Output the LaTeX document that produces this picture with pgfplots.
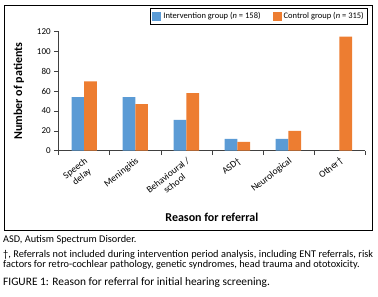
\documentclass[border=0pt]{standalone}
\usepackage{pgfplots}
\pgfplotsset{compat=1.18}
\usepackage{fontspec}
\setmainfont{Carlito}
\definecolor{cblue}{HTML}{5B9BD5}
\definecolor{corange}{HTML}{ED7D31}
\begin{document}
\begin{tikzpicture}
\path[use as bounding box] (0pt,0pt) rectangle (378pt,297pt);
\draw[line width=0.9pt] (4.3pt,67pt) rectangle (372.7pt,292pt);
\begin{axis}[
  at={(58.7pt,146.3pt)}, anchor=south west,
  scale only axis, width=306.3pt, height=119pt,
  xmin=-0.5, xmax=5.5, ymin=0, ymax=120,
  ybar=0pt, bar width=12.7pt,
  axis x line*=bottom, axis y line*=left,
  axis line style={black!75, line width=0.6pt},
  xtick={0,1,2,3,4,5},
  xticklabels={{Speech\\delay},Meningitis,{Behavioural /\\school},ASD\dag,Neurological,Other\dag},
  minor xtick={-0.5,0.5,1.5,2.5,3.5,4.5,5.5},
  major x tick style={draw=none},
  tick align=outside, major tick length=4.5pt, minor tick length=4.5pt,
  tick style={black!75, line width=0.6pt},
  ytick={0,20,40,60,80,100,120},
  /pgf/number format/assume math mode=true,
  yticklabel style={font=\fontsize{9}{10}\selectfont},
  xticklabel style={font=\fontsize{9.5}{10.5}\selectfont, rotate=38, anchor=north east, align=center, inner sep=1pt},
  xlabel={Reason for referral},
  ylabel={Number of patients},
  xlabel style={at={(axis description cs:0.5,-0.56)}, anchor=center, font=\fontsize{12}{14}\selectfont\bfseries},
  ylabel style={at={(axis description cs:-0.13,0.5)}, anchor=center, font=\fontsize{12}{14}\selectfont\bfseries},
  legend columns=2,
  legend style={at={(axis description cs:1.01,1.2)}, anchor=north east, draw=black, line width=0.6pt,
    font=\fontsize{8.5}{10}\selectfont, inner sep=2pt,
    /tikz/every even column/.append style={column sep=10pt}},
  legend image code/.code={\fill[#1] (0pt,-4.5pt) rectangle (9pt,4.5pt);},
]
\addplot[fill=cblue, draw=none] coordinates {(0,54) (1,54) (2,31) (3,12) (4,12)};
\addlegendentry{Intervention group (\textit{n} = 158)}
\addplot[fill=corange, draw=none] coordinates {(0,70) (1,47) (2,58) (3,9) (4,20) (5,115)};
\addlegendentry{Control group (\textit{n} = 315)}
\end{axis}
\node[anchor=west, inner sep=0pt, font=\fontsize{10.3}{12}\selectfont] at (3pt,57pt) {ASD, Autism Spectrum Disorder.};
\node[anchor=north west, inner sep=0pt, text width=370pt, align=justify, font=\fontsize{10.3}{9.3}\selectfont] at (3pt,46.5pt)
  {\dag, Referrals not included during intervention period analysis, including ENT referrals, risk factors for retro-cochlear pathology, genetic syndromes, head trauma and ototoxicity.};
\node[anchor=west, inner sep=0pt, font=\fontsize{11.4}{13}\selectfont] at (3pt,14pt) {FIGURE 1: Reason for referral for initial hearing screening.};
\end{tikzpicture}
\end{document}
